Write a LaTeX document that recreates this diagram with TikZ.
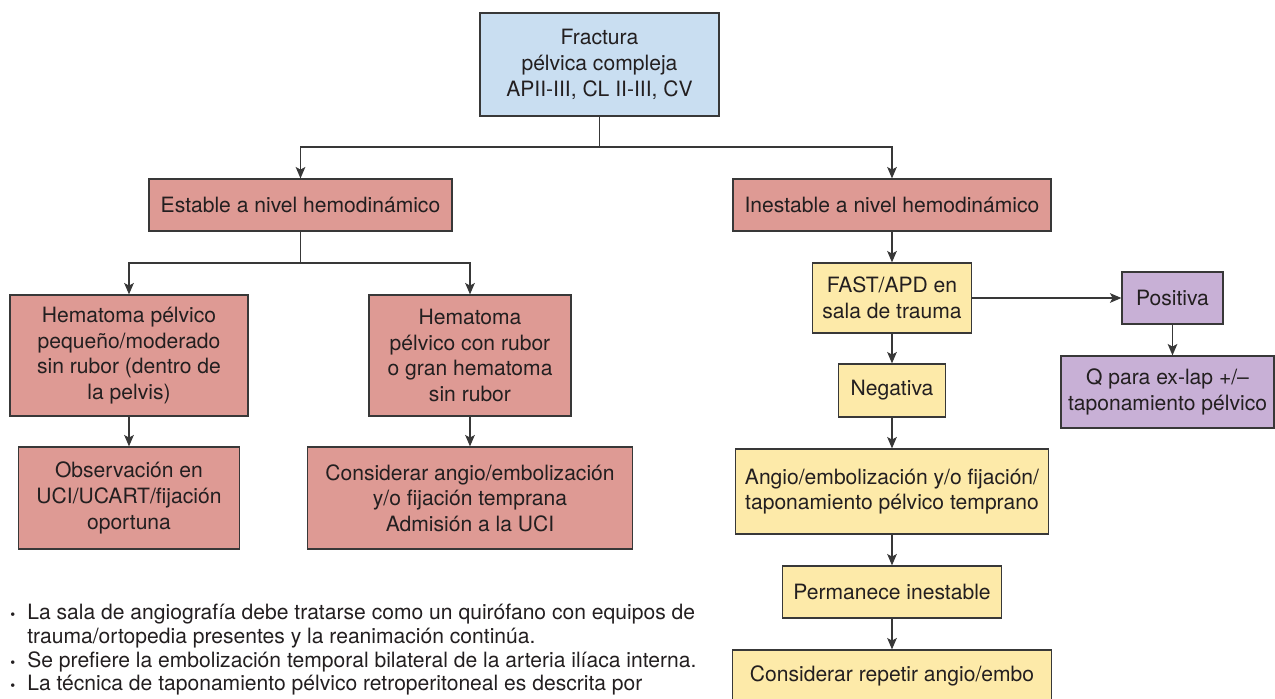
\documentclass[tikz,border=0pt]{standalone}
\usepackage{fontspec}
\setmainfont{TeX Gyre Heros}
\usetikzlibrary{arrows.meta,positioning}
\definecolor{BoxBlue}{HTML}{C9DEF1}
\definecolor{BoxRose}{HTML}{DE9A94}
\definecolor{BoxSand}{HTML}{FDEAA9}
\definecolor{BoxLilac}{HTML}{C8B0D6}
\definecolor{EdgeGray}{HTML}{383838}
\definecolor{InkGray}{HTML}{231F20}
\newcommand{\notedot}{\makebox[0.34cm][l]{\fontsize{8}{8}\selectfont\textbullet}}

\begin{document}
\begin{tikzpicture}[
  x=0.02cm, y=-0.02cm,
  box/.style={draw=EdgeGray, line width=0.7pt, inner sep=0pt, align=center, text=InkGray, font=\fontsize{12}{14.6}\selectfont},
  bluebox/.style={box, fill=BoxBlue},
  rosebox/.style={box, fill=BoxRose},
  sandbox/.style={box, fill=BoxSand},
  lilacbox/.style={box, fill=BoxLilac},
  line/.style={line width=0.7pt, EdgeGray},
  arr/.style={-{Stealth[length=6.5pt,width=5.5pt,inset=1.5pt]}, line width=0.7pt, EdgeGray},
  note/.style={inner sep=0pt, align=left, text=InkGray, font=\fontsize{12}{13.5}\selectfont}
]
\useasboundingbox (0,0) rectangle (1275,699);

% left branch
\node[bluebox, minimum width=4.78cm, minimum height=2.06cm] (top) at (599.5,64.5) {Fractura\\pélvica compleja\\APII-III, CL II-III, CV};
\node[rosebox, minimum width=6.06cm, minimum height=1.04cm] (estable) at (300.5,205) {Estable a nivel hemodinámico};
\node[rosebox, minimum width=4.76cm, minimum height=2.42cm] (hem1) at (129,355.5) {Hematoma pélvico\\pequeño/moderado\\sin rubor (dentro de\\la pelvis)};
\node[rosebox, minimum width=4.04cm, minimum height=2.42cm] (hem2) at (470,355.5) {Hematoma\\pélvico con rubor\\o gran hematoma\\sin rubor};
\node[rosebox, minimum width=4.42cm, minimum height=2.04cm] (obs) at (129,498) {Observación en\\UCI/UCART/fijación\\oportuna};
\node[rosebox, minimum width=6.5cm, minimum height=2.04cm] (consid) at (470,498) {Considerar angio/embolización\\y/o fijación temprana\\Admisión a la UCI};

% right branch
\node[rosebox, minimum width=6.36cm, minimum height=1.04cm] (inestable) at (892,205) {Inestable a nivel hemodinámico};
\node[sandbox, minimum width=3.18cm, minimum height=1.4cm] (fast) at (892,298) {FAST/APD en\\sala de trauma};
\node[sandbox, minimum width=2.14cm, minimum height=1.06cm] (negativa) at (892,390.5) {Negativa};
\node[sandbox, minimum width=6.26cm, minimum height=1.7cm] (angio) at (892,491.5) {Angio/embolización y/o fijación/\\taponamiento pélvico temprano};
\node[sandbox, minimum width=4.38cm, minimum height=1.04cm] (perm) at (892,592) {Permanece inestable};
\node[sandbox, minimum width=6.38cm, minimum height=1.04cm] (repetir) at (892,676) {Considerar repetir angio/embo};
\node[lilacbox, minimum width=2.02cm, minimum height=1.04cm] (positiva) at (1172.5,298) {Positiva};
\node[lilacbox, minimum width=4.26cm, minimum height=1.44cm] (qlap) at (1167.5,392) {Q para ex-lap +/–\\taponamiento pélvico};

% notes
\node[note, anchor=north west] (notes) at (10,604) {\notedot La sala de angiografía debe tratarse como un quirófano con equipos de\\
\hspace*{0.34cm}trauma/ortopedia presentes y la reanimación continúa.\\
\notedot Se prefiere la embolización temporal bilateral de la arteria ilíaca interna.\\
\notedot La técnica de taponamiento pélvico retroperitoneal es descrita por};

% connectors
\coordinate (split1) at (599.5,147);
\coordinate (split2) at (300.5,263);
\draw[line] (top) -- (split1);
\draw[arr] (split1) -| (estable);
\draw[arr] (split1) -| (inestable);
\draw[line] (estable) -- (split2);
\draw[arr] (split2) -| (hem1);
\draw[arr] (split2) -| (hem2);
\draw[arr] (hem1) -- (obs);
\draw[arr] (hem2) -- (consid);
\draw[arr] (inestable) -- (fast);
\draw[arr] (fast) -- (positiva);
\draw[arr] (fast) -- (negativa);
\draw[arr] (negativa) -- (angio);
\draw[arr] (angio) -- (perm);
\draw[arr] (perm) -- (repetir);
\draw[arr] (positiva) -- (positiva |- qlap.north);
\end{tikzpicture}
\end{document}
